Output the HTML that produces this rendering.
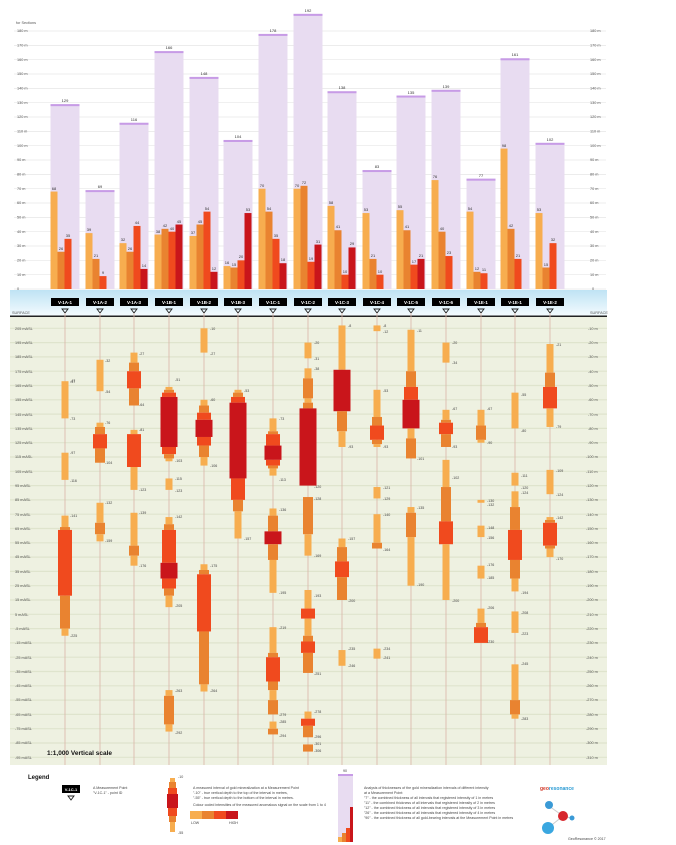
<!DOCTYPE html>
<html><head><meta charset="utf-8"><style>
html,body{margin:0;padding:0;background:#fff;}
svg{display:block;font-family:"Liberation Sans",sans-serif;}
.l{fill:#f7ad4f}.o{fill:#e98330}.r{fill:#f04a1e}.d{fill:#c9151b}
.t{font-size:3.6px;fill:#444}
.g{stroke:#e6e6e6;stroke-width:0.7}
.ax{font-size:3.8px;fill:#555}
.v{font-size:4px;fill:#333;text-anchor:middle}
</style></head><body>
<svg width="676" height="845" viewBox="0 0 676 845" xmlns="http://www.w3.org/2000/svg">
<defs><linearGradient id="bl" x1="0" y1="0" x2="0" y2="1"><stop offset="0" stop-color="#bfe3f4"/><stop offset="1" stop-color="#f4fbfe"/></linearGradient></defs>
<rect width="676" height="845" fill="#fff"/>
<!-- top grid -->
<text x="16" y="24" class="ax">for Sections</text>
<g>
<line class="g" x1="14" x2="606" y1="289" y2="289"/><line class="g" x1="14" x2="606" y1="274.7" y2="274.7"/><line class="g" x1="14" x2="606" y1="260.3" y2="260.3"/><line class="g" x1="14" x2="606" y1="246" y2="246"/><line class="g" x1="14" x2="606" y1="231.7" y2="231.7"/><line class="g" x1="14" x2="606" y1="217.4" y2="217.4"/><line class="g" x1="14" x2="606" y1="203" y2="203"/><line class="g" x1="14" x2="606" y1="188.7" y2="188.7"/><line class="g" x1="14" x2="606" y1="174.4" y2="174.4"/><line class="g" x1="14" x2="606" y1="160" y2="160"/><line class="g" x1="14" x2="606" y1="145.7" y2="145.7"/><line class="g" x1="14" x2="606" y1="131.4" y2="131.4"/><line class="g" x1="14" x2="606" y1="117" y2="117"/><line class="g" x1="14" x2="606" y1="102.7" y2="102.7"/><line class="g" x1="14" x2="606" y1="88.4" y2="88.4"/><line class="g" x1="14" x2="606" y1="74" y2="74"/><line class="g" x1="14" x2="606" y1="59.7" y2="59.7"/><line class="g" x1="14" x2="606" y1="45.4" y2="45.4"/><line class="g" x1="14" x2="606" y1="31" y2="31"/>
</g>
<g class="ax">
<text x="17" y="290">0</text><text x="17" y="276">10 m</text><text x="17" y="261.5">20 m</text><text x="17" y="247">30 m</text><text x="17" y="233">40 m</text><text x="17" y="218.5">50 m</text><text x="17" y="204">60 m</text><text x="17" y="190">70 m</text><text x="17" y="175.5">80 m</text><text x="17" y="161">90 m</text><text x="17" y="147">100 m</text><text x="17" y="132.5">110 m</text><text x="17" y="118">120 m</text><text x="17" y="104">130 m</text><text x="17" y="89.5">140 m</text><text x="17" y="75">150 m</text><text x="17" y="61">160 m</text><text x="17" y="46.5">170 m</text><text x="17" y="32">180 m</text>
<text x="592" y="290">0</text><text x="590" y="276">10 m</text><text x="590" y="261.5">20 m</text><text x="590" y="247">30 m</text><text x="590" y="233">40 m</text><text x="590" y="218.5">50 m</text><text x="590" y="204">60 m</text><text x="590" y="190">70 m</text><text x="590" y="175.5">80 m</text><text x="590" y="161">90 m</text><text x="590" y="147">100 m</text><text x="590" y="132.5">110 m</text><text x="590" y="118">120 m</text><text x="590" y="104">130 m</text><text x="590" y="89.5">140 m</text><text x="590" y="75">150 m</text><text x="590" y="61">160 m</text><text x="590" y="46.5">170 m</text><text x="590" y="32">180 m</text>
</g>
<!-- top bars -->
<g transform="translate(50.5,289) scale(1,-1.433)"><rect width="29" height="129" fill="#e8dcf1"/><rect y="127.6" width="29" height="1.4" fill="#c79be6"/><rect class="l" width="7" height="68"/><rect class="o" x="7" width="7" height="26"/><rect class="r" x="14" width="7" height="35"/></g>
<g transform="translate(85.5,289) scale(1,-1.433)"><rect width="29" height="69" fill="#e8dcf1"/><rect y="67.6" width="29" height="1.4" fill="#c79be6"/><rect class="l" width="7" height="39"/><rect class="o" x="7" width="7" height="21"/><rect class="r" x="14" width="7" height="9"/></g>
<g transform="translate(119.5,289) scale(1,-1.433)"><rect width="29" height="116" fill="#e8dcf1"/><rect y="114.6" width="29" height="1.4" fill="#c79be6"/><rect class="l" width="7" height="32"/><rect class="o" x="7" width="7" height="26"/><rect class="r" x="14" width="7" height="44"/><rect class="d" x="21" width="7" height="14"/></g>
<g transform="translate(154.5,289) scale(1,-1.433)"><rect width="29" height="166" fill="#e8dcf1"/><rect y="164.6" width="29" height="1.4" fill="#c79be6"/><rect class="l" width="7" height="38"/><rect class="o" x="7" width="7" height="42"/><rect class="r" x="14" width="7" height="40"/><rect class="d" x="21" width="7" height="45"/></g>
<g transform="translate(189.5,289) scale(1,-1.433)"><rect width="29" height="148" fill="#e8dcf1"/><rect y="146.6" width="29" height="1.4" fill="#c79be6"/><rect class="l" width="7" height="37"/><rect class="o" x="7" width="7" height="45"/><rect class="r" x="14" width="7" height="54"/><rect class="d" x="21" width="7" height="12"/></g>
<g transform="translate(223.5,289) scale(1,-1.433)"><rect width="29" height="104" fill="#e8dcf1"/><rect y="102.6" width="29" height="1.4" fill="#c79be6"/><rect class="l" width="7" height="16"/><rect class="o" x="7" width="7" height="15"/><rect class="r" x="14" width="7" height="20"/><rect class="d" x="21" width="7" height="53"/></g>
<g transform="translate(258.5,289) scale(1,-1.433)"><rect width="29" height="178" fill="#e8dcf1"/><rect y="176.6" width="29" height="1.4" fill="#c79be6"/><rect class="l" width="7" height="70"/><rect class="o" x="7" width="7" height="54"/><rect class="r" x="14" width="7" height="35"/><rect class="d" x="21" width="7" height="18"/></g>
<g transform="translate(293.5,289) scale(1,-1.433)"><rect width="29" height="192" fill="#e8dcf1"/><rect y="190.6" width="29" height="1.4" fill="#c79be6"/><rect class="l" width="7" height="70"/><rect class="o" x="7" width="7" height="72"/><rect class="r" x="14" width="7" height="19"/><rect class="d" x="21" width="7" height="31"/></g>
<g transform="translate(327.5,289) scale(1,-1.433)"><rect width="29" height="138" fill="#e8dcf1"/><rect y="136.6" width="29" height="1.4" fill="#c79be6"/><rect class="l" width="7" height="58"/><rect class="o" x="7" width="7" height="41"/><rect class="r" x="14" width="7" height="10"/><rect class="d" x="21" width="7" height="29"/></g>
<g transform="translate(362.5,289) scale(1,-1.433)"><rect width="29" height="83" fill="#e8dcf1"/><rect y="81.6" width="29" height="1.4" fill="#c79be6"/><rect class="l" width="7" height="53"/><rect class="o" x="7" width="7" height="21"/><rect class="r" x="14" width="7" height="10"/></g>
<g transform="translate(396.5,289) scale(1,-1.433)"><rect width="29" height="135" fill="#e8dcf1"/><rect y="133.6" width="29" height="1.4" fill="#c79be6"/><rect class="l" width="7" height="55"/><rect class="o" x="7" width="7" height="41"/><rect class="r" x="14" width="7" height="17"/><rect class="d" x="21" width="7" height="21"/></g>
<g transform="translate(431.5,289) scale(1,-1.433)"><rect width="29" height="139" fill="#e8dcf1"/><rect y="137.6" width="29" height="1.4" fill="#c79be6"/><rect class="l" width="7" height="76"/><rect class="o" x="7" width="7" height="40"/><rect class="r" x="14" width="7" height="23"/></g>
<g transform="translate(466.5,289) scale(1,-1.433)"><rect width="29" height="77" fill="#e8dcf1"/><rect y="75.6" width="29" height="1.4" fill="#c79be6"/><rect class="l" width="7" height="54"/><rect class="o" x="7" width="7" height="12"/><rect class="r" x="14" width="7" height="11"/></g>
<g transform="translate(500.5,289) scale(1,-1.433)"><rect width="29" height="161" fill="#e8dcf1"/><rect y="159.6" width="29" height="1.4" fill="#c79be6"/><rect class="l" width="7" height="98"/><rect class="o" x="7" width="7" height="42"/><rect class="r" x="14" width="7" height="21"/></g>
<g transform="translate(535.5,289) scale(1,-1.433)"><rect width="29" height="102" fill="#e8dcf1"/><rect y="100.6" width="29" height="1.4" fill="#c79be6"/><rect class="l" width="7" height="53"/><rect class="o" x="7" width="7" height="15"/><rect class="r" x="14" width="7" height="32"/></g>
<!-- top labels -->
<g class="v">
<text x="65" y="102">129</text><text x="100" y="188">69</text><text x="134" y="121">116</text><text x="169" y="49">166</text><text x="204" y="75">148</text><text x="238" y="138">104</text><text x="273" y="32">178</text><text x="308" y="12">192</text><text x="342" y="89">138</text><text x="377" y="168">83</text><text x="411" y="94">135</text><text x="446" y="88">139</text><text x="481" y="177">77</text><text x="515" y="56">161</text><text x="550" y="141">102</text>
<text x="54" y="190">68</text><text x="61" y="250">26</text><text x="68" y="237">35</text>
<text x="89" y="231">39</text><text x="96" y="257">21</text><text x="103" y="274">9</text>
<text x="123" y="241">32</text><text x="130" y="250">26</text><text x="137" y="224">44</text><text x="144" y="267">14</text>
<text x="158" y="233">38</text><text x="165" y="227">42</text><text x="172" y="230">40</text><text x="179" y="223">45</text>
<text x="193" y="234">37</text><text x="200" y="223">45</text><text x="207" y="210">54</text><text x="214" y="270">12</text>
<text x="227" y="264">16</text><text x="234" y="266">15</text><text x="241" y="258">20</text><text x="248" y="211">53</text>
<text x="262" y="187">70</text><text x="269" y="210">54</text><text x="276" y="237">35</text><text x="283" y="261">18</text>
<text x="297" y="187">70</text><text x="304" y="184">72</text><text x="311" y="260">19</text><text x="318" y="243">31</text>
<text x="331" y="204">58</text><text x="338" y="228">41</text><text x="345" y="273">10</text><text x="352" y="245">29</text>
<text x="366" y="211">53</text><text x="373" y="257">21</text><text x="380" y="273">10</text>
<text x="400" y="208">55</text><text x="407" y="228">41</text><text x="414" y="263">17</text><text x="421" y="257">21</text>
<text x="435" y="178">76</text><text x="442" y="230">40</text><text x="449" y="254">23</text>
<text x="470" y="210">54</text><text x="477" y="270">12</text><text x="484" y="271">11</text>
<text x="504" y="147">98</text><text x="511" y="227">42</text><text x="518" y="257">21</text>
<text x="539" y="211">53</text><text x="546" y="266">15</text><text x="553" y="241">32</text>
</g>
<!-- blue band -->
<rect x="10" y="290" width="597" height="26" fill="url(#bl)"/>
<g fill="#000"><rect x="51" y="298" width="28" height="8"/><rect x="86" y="298" width="28" height="8"/><rect x="120" y="298" width="28" height="8"/><rect x="155" y="298" width="28" height="8"/><rect x="190" y="298" width="28" height="8"/><rect x="224" y="298" width="28" height="8"/><rect x="259" y="298" width="28" height="8"/><rect x="294" y="298" width="28" height="8"/><rect x="328" y="298" width="28" height="8"/><rect x="363" y="298" width="28" height="8"/><rect x="397" y="298" width="28" height="8"/><rect x="432" y="298" width="28" height="8"/><rect x="467" y="298" width="28" height="8"/><rect x="501" y="298" width="28" height="8"/><rect x="536" y="298" width="28" height="8"/></g>
<g font-size="4.5" fill="#fff" font-weight="bold" text-anchor="middle"><text x="65" y="304">V-1A-1</text><text x="100" y="304">V-1A-2</text><text x="134" y="304">V-1A-3</text><text x="169" y="304">V-1B-1</text><text x="204" y="304">V-1B-2</text><text x="238" y="304">V-1B-3</text><text x="273" y="304">V-1C-1</text><text x="308" y="304">V-1C-2</text><text x="342" y="304">V-1C-3</text><text x="377" y="304">V-1C-4</text><text x="411" y="304">V-1C-5</text><text x="446" y="304">V-1C-6</text><text x="481" y="304">V-1E-1</text><text x="515" y="304">V-1E-1</text><text x="550" y="304">V-1E-2</text></g>
<g fill="none" stroke="#222" stroke-width="0.9"><path d="M62 309h6l-3 4z"/><path d="M97 309h6l-3 4z"/><path d="M131 309h6l-3 4z"/><path d="M166 309h6l-3 4z"/><path d="M201 309h6l-3 4z"/><path d="M235 309h6l-3 4z"/><path d="M270 309h6l-3 4z"/><path d="M305 309h6l-3 4z"/><path d="M339 309h6l-3 4z"/><path d="M374 309h6l-3 4z"/><path d="M408 309h6l-3 4z"/><path d="M443 309h6l-3 4z"/><path d="M478 309h6l-3 4z"/><path d="M512 309h6l-3 4z"/><path d="M547 309h6l-3 4z"/></g>
<text x="12" y="314" class="ax" font-size="3.2">SURFACE</text><text x="590" y="314" class="ax" font-size="3.2">SURFACE</text>
<rect x="10" y="315.5" width="597" height="1.6" fill="#222"/>
<!-- green area -->
<rect x="10" y="317" width="597" height="448" fill="#eef1e1"/>
<g stroke="#dfe4cd" stroke-width="1.2">
<line x1="10" x2="607" y1="328.3" y2="328.3"/><line x1="10" x2="607" y1="342.6" y2="342.6"/><line x1="10" x2="607" y1="356.9" y2="356.9"/><line x1="10" x2="607" y1="371.2" y2="371.2"/><line x1="10" x2="607" y1="385.5" y2="385.5"/><line x1="10" x2="607" y1="399.8" y2="399.8"/><line x1="10" x2="607" y1="414.1" y2="414.1"/><line x1="10" x2="607" y1="428.4" y2="428.4"/><line x1="10" x2="607" y1="442.7" y2="442.7"/><line x1="10" x2="607" y1="457" y2="457"/><line x1="10" x2="607" y1="471.3" y2="471.3"/><line x1="10" x2="607" y1="485.6" y2="485.6"/><line x1="10" x2="607" y1="499.9" y2="499.9"/><line x1="10" x2="607" y1="514.2" y2="514.2"/><line x1="10" x2="607" y1="528.5" y2="528.5"/><line x1="10" x2="607" y1="542.8" y2="542.8"/><line x1="10" x2="607" y1="557.1" y2="557.1"/><line x1="10" x2="607" y1="571.4" y2="571.4"/><line x1="10" x2="607" y1="585.7" y2="585.7"/><line x1="10" x2="607" y1="600" y2="600"/><line x1="10" x2="607" y1="614.3" y2="614.3"/><line x1="10" x2="607" y1="628.6" y2="628.6"/><line x1="10" x2="607" y1="642.9" y2="642.9"/><line x1="10" x2="607" y1="657.2" y2="657.2"/><line x1="10" x2="607" y1="671.5" y2="671.5"/><line x1="10" x2="607" y1="685.8" y2="685.8"/><line x1="10" x2="607" y1="700.1" y2="700.1"/><line x1="10" x2="607" y1="714.4" y2="714.4"/><line x1="10" x2="607" y1="728.7" y2="728.7"/><line x1="10" x2="607" y1="743" y2="743"/><line x1="10" x2="607" y1="757.3" y2="757.3"/>
</g>
<g stroke="#d9b5a8" stroke-width="0.8"><line x1="65" x2="65" y1="313" y2="765"/><line x1="100" x2="100" y1="313" y2="765"/><line x1="134" x2="134" y1="313" y2="765"/><line x1="169" x2="169" y1="313" y2="765"/><line x1="204" x2="204" y1="313" y2="765"/><line x1="238" x2="238" y1="313" y2="765"/><line x1="273" x2="273" y1="313" y2="765"/><line x1="308" x2="308" y1="313" y2="765"/><line x1="342" x2="342" y1="313" y2="765"/><line x1="377" x2="377" y1="313" y2="765"/><line x1="411" x2="411" y1="313" y2="765"/><line x1="446" x2="446" y1="313" y2="765"/><line x1="481" x2="481" y1="313" y2="765"/><line x1="515" x2="515" y1="313" y2="765"/><line x1="550" x2="550" y1="313" y2="765"/></g>
<g class="ax" font-size="3.5">
<text x="15" y="330">205 mASL</text><text x="15" y="344">195 mASL</text><text x="15" y="358">185 mASL</text><text x="15" y="373">175 mASL</text><text x="15" y="387">165 mASL</text><text x="15" y="401">155 mASL</text><text x="15" y="416">145 mASL</text><text x="15" y="430">135 mASL</text><text x="15" y="444">125 mASL</text><text x="15" y="458">115 mASL</text><text x="15" y="473">105 mASL</text><text x="15" y="487">95 mASL</text><text x="15" y="501">85 mASL</text><text x="15" y="516">75 mASL</text><text x="15" y="530">65 mASL</text><text x="15" y="544">55 mASL</text><text x="15" y="558">45 mASL</text><text x="15" y="573">35 mASL</text><text x="15" y="587">25 mASL</text><text x="15" y="601">15 mASL</text><text x="15" y="616">5 mASL</text><text x="15" y="630">-5 mASL</text><text x="15" y="644">-15 mASL</text><text x="15" y="659">-25 mASL</text><text x="15" y="673">-35 mASL</text><text x="15" y="687">-45 mASL</text><text x="15" y="701">-55 mASL</text><text x="15" y="716">-65 mASL</text><text x="15" y="730">-75 mASL</text><text x="15" y="744">-85 mASL</text><text x="15" y="759">-95 mASL</text>
<text x="588" y="330">-10 m</text><text x="588" y="344">-20 m</text><text x="588" y="358">-30 m</text><text x="588" y="373">-40 m</text><text x="588" y="387">-50 m</text><text x="588" y="401">-60 m</text><text x="588" y="416">-70 m</text><text x="588" y="430">-80 m</text><text x="588" y="444">-90 m</text><text x="586" y="458">-100 m</text><text x="586" y="473">-110 m</text><text x="586" y="487">-120 m</text><text x="586" y="501">-130 m</text><text x="586" y="516">-140 m</text><text x="586" y="530">-150 m</text><text x="586" y="544">-160 m</text><text x="586" y="558">-170 m</text><text x="586" y="573">-180 m</text><text x="586" y="587">-190 m</text><text x="586" y="601">-200 m</text><text x="586" y="616">-210 m</text><text x="586" y="630">-220 m</text><text x="586" y="644">-230 m</text><text x="586" y="659">-240 m</text><text x="586" y="673">-250 m</text><text x="586" y="687">-260 m</text><text x="586" y="701">-270 m</text><text x="586" y="716">-280 m</text><text x="586" y="730">-290 m</text><text x="586" y="744">-300 m</text><text x="586" y="759">-310 m</text>
</g>
<!-- intervals: depth-scaled groups -->
<g transform="translate(65,314) scale(1,1.43)">
<rect class="l" x="-3.5" width="7" y="47" height="26"/><rect class="l" x="-3.5" width="7" y="97" height="19"/><rect class="l" x="-3.5" width="7" y="141" height="10"/><rect class="o" x="-5" width="10" y="149" height="2"/><rect class="r" x="-7" width="14" y="151" height="46"/><rect class="o" x="-5" width="10" y="197" height="23"/><rect class="l" x="-3.5" width="7" y="220" height="5"/>
<text class="t" x="5" y="48" transform="scale(1,0.7)" dy="20">-47</text></g>
<g transform="translate(100,314) scale(1,1.43)">
<rect class="l" x="-3.5" width="7" y="32" height="22"/><rect class="l" x="-3.5" width="7" y="76" height="3"/><rect class="o" x="-5" width="10" y="79" height="5"/><rect class="r" x="-7" width="14" y="84" height="10"/><rect class="o" x="-5" width="10" y="94" height="10"/><rect class="l" x="-3.5" width="7" y="132" height="14"/><rect class="o" x="-5" width="10" y="146" height="8"/><rect class="l" x="-3.5" width="7" y="154" height="5"/></g>
<g transform="translate(134,314) scale(1,1.43)">
<rect class="l" x="-3.5" width="7" y="27" height="7"/><rect class="o" x="-5" width="10" y="34" height="6"/><rect class="r" x="-7" width="14" y="40" height="12"/><rect class="o" x="-5" width="10" y="52" height="12"/><rect class="l" x="-3.5" width="7" y="81" height="3"/><rect class="r" x="-7" width="14" y="84" height="23"/><rect class="l" x="-3.5" width="7" y="107" height="16"/><rect class="l" x="-3.5" width="7" y="139" height="23"/><rect class="o" x="-5" width="10" y="162" height="7"/><rect class="l" x="-3.5" width="7" y="169" height="7"/></g>
<g transform="translate(169,314) scale(1,1.43)">
<rect class="l" x="-3.5" width="7" y="51" height="2"/><rect class="o" x="-5" width="10" y="53" height="2"/><rect class="r" x="-7" width="14" y="55" height="3"/><rect class="d" x="-8.5" width="17" y="58" height="35"/><rect class="r" x="-7" width="14" y="93" height="5"/><rect class="o" x="-5" width="10" y="98" height="3"/><rect class="l" x="-3.5" width="7" y="101" height="2"/><rect class="l" x="-3.5" width="7" y="115" height="8"/>
<rect class="l" x="-3.5" width="7" y="142" height="5"/><rect class="o" x="-5" width="10" y="147" height="4"/><rect class="r" x="-7" width="14" y="151" height="23"/><rect class="d" x="-8.5" width="17" y="174" height="11"/><rect class="r" x="-7" width="14" y="185" height="7"/><rect class="o" x="-5" width="10" y="192" height="5"/><rect class="l" x="-3.5" width="7" y="197" height="8"/>
<rect class="l" x="-3.5" width="7" y="263" height="4"/><rect class="o" x="-5" width="10" y="267" height="20"/><rect class="l" x="-3.5" width="7" y="287" height="5"/></g>
<g transform="translate(204,314) scale(1,1.43)">
<rect class="l" x="-3.5" width="7" y="10" height="17"/><rect class="l" x="-3.5" width="7" y="60" height="4"/><rect class="o" x="-5" width="10" y="64" height="5"/><rect class="r" x="-7" width="14" y="69" height="5"/><rect class="d" x="-8.5" width="17" y="74" height="12"/><rect class="r" x="-7" width="14" y="86" height="6"/><rect class="o" x="-5" width="10" y="92" height="8"/><rect class="l" x="-3.5" width="7" y="100" height="6"/>
<rect class="l" x="-3.5" width="7" y="175" height="4"/><rect class="o" x="-5" width="10" y="179" height="3"/><rect class="r" x="-7" width="14" y="182" height="40"/><rect class="o" x="-5" width="10" y="222" height="37"/><rect class="l" x="-3.5" width="7" y="259" height="5"/></g>
<g transform="translate(238,314) scale(1,1.43)">
<rect class="l" x="-3.5" width="7" y="53" height="2"/><rect class="o" x="-5" width="10" y="55" height="3"/><rect class="r" x="-7" width="14" y="58" height="4"/><rect class="d" x="-8.5" width="17" y="62" height="53"/><rect class="r" x="-7" width="14" y="115" height="15"/><rect class="o" x="-5" width="10" y="130" height="8"/><rect class="l" x="-3.5" width="7" y="138" height="19"/></g>
<g transform="translate(273,314) scale(1,1.43)">
<rect class="l" x="-3.5" width="7" y="73" height="9"/><rect class="o" x="-5" width="10" y="82" height="2"/><rect class="r" x="-7" width="14" y="84" height="8"/><rect class="d" x="-8.5" width="17" y="92" height="10"/><rect class="r" x="-7" width="14" y="102" height="4"/><rect class="o" x="-5" width="10" y="106" height="2"/><rect class="l" x="-3.5" width="7" y="108" height="5"/>
<rect class="l" x="-3.5" width="7" y="136" height="5"/><rect class="o" x="-5" width="10" y="141" height="11"/><rect class="d" x="-8.5" width="17" y="152" height="9"/><rect class="o" x="-5" width="10" y="161" height="11"/><rect class="l" x="-3.5" width="7" y="172" height="23"/>
<rect class="l" x="-3.5" width="7" y="219" height="18"/><rect class="o" x="-5" width="10" y="237" height="3"/><rect class="r" x="-7" width="14" y="240" height="17"/><rect class="o" x="-5" width="10" y="257" height="6"/><rect class="l" x="-3.5" width="7" y="263" height="7"/><rect class="o" x="-5" width="10" y="270" height="10"/><rect class="l" x="-3.5" width="7" y="285" height="5"/><rect class="o" x="-5" width="10" y="290" height="4"/></g>
<g transform="translate(308,314) scale(1,1.43)">
<rect class="l" x="-3.5" width="7" y="20" height="11"/><rect class="l" x="-3.5" width="7" y="38" height="7"/><rect class="o" x="-5" width="10" y="45" height="14"/><rect class="l" x="-3.5" width="7" y="59" height="3"/><rect class="o" x="-5" width="10" y="62" height="4"/><rect class="d" x="-8.5" width="17" y="66" height="54"/>
<rect class="o" x="-5" width="10" y="128" height="26"/><rect class="l" x="-3.5" width="7" y="154" height="15"/>
<rect class="l" x="-3.5" width="7" y="193" height="13"/><rect class="r" x="-7" width="14" y="206" height="7"/><rect class="l" x="-3.5" width="7" y="213" height="12"/><rect class="o" x="-5" width="10" y="225" height="4"/><rect class="r" x="-7" width="14" y="229" height="8"/><rect class="o" x="-5" width="10" y="237" height="14"/>
<rect class="l" x="-3.5" width="7" y="278" height="5"/><rect class="r" x="-7" width="14" y="283" height="5"/><rect class="o" x="-5" width="10" y="288" height="8"/><rect class="o" x="-5" width="10" y="301" height="5"/></g>
<g transform="translate(342,314) scale(1,1.43)">
<rect class="l" x="-3.5" width="7" y="8" height="31"/><rect class="d" x="-8.5" width="17" y="39" height="29"/><rect class="o" x="-5" width="10" y="68" height="14"/><rect class="l" x="-3.5" width="7" y="82" height="11"/>
<rect class="l" x="-3.5" width="7" y="157" height="6"/><rect class="o" x="-5" width="10" y="163" height="10"/><rect class="r" x="-7" width="14" y="173" height="11"/><rect class="o" x="-5" width="10" y="184" height="16"/><rect class="l" x="-3.5" width="7" y="235" height="11"/></g>
<g transform="translate(377,314) scale(1,1.43)">
<rect class="l" x="-3.5" width="7" y="8" height="4"/><rect class="l" x="-3.5" width="7" y="53" height="19"/><rect class="o" x="-5" width="10" y="72" height="6"/><rect class="r" x="-7" width="14" y="78" height="10"/><rect class="o" x="-5" width="10" y="88" height="3"/><rect class="l" x="-3.5" width="7" y="91" height="2"/>
<rect class="l" x="-3.5" width="7" y="121" height="8"/><rect class="l" x="-3.5" width="7" y="140" height="20"/><rect class="o" x="-5" width="10" y="160" height="4"/><rect class="l" x="-3.5" width="7" y="234" height="7"/></g>
<g transform="translate(411,314) scale(1,1.43)">
<rect class="l" x="-3.5" width="7" y="11" height="29"/><rect class="o" x="-5" width="10" y="40" height="11"/><rect class="r" x="-7" width="14" y="51" height="9"/><rect class="d" x="-8.5" width="17" y="60" height="20"/><rect class="l" x="-3.5" width="7" y="80" height="7"/><rect class="o" x="-5" width="10" y="87" height="14"/>
<rect class="l" x="-3.5" width="7" y="135" height="4"/><rect class="o" x="-5" width="10" y="139" height="17"/><rect class="l" x="-3.5" width="7" y="156" height="34"/></g>
<g transform="translate(446,314) scale(1,1.43)">
<rect class="l" x="-3.5" width="7" y="20" height="14"/><rect class="l" x="-3.5" width="7" y="67" height="7"/><rect class="o" x="-5" width="10" y="74" height="2"/><rect class="r" x="-7" width="14" y="76" height="8"/><rect class="o" x="-5" width="10" y="84" height="9"/>
<rect class="l" x="-3.5" width="7" y="102" height="19"/><rect class="o" x="-5" width="10" y="121" height="24"/><rect class="r" x="-7" width="14" y="145" height="16"/><rect class="l" x="-3.5" width="7" y="161" height="39"/></g>
<g transform="translate(481,314) scale(1,1.43)">
<rect class="l" x="-3.5" width="7" y="67" height="11"/><rect class="o" x="-5" width="10" y="78" height="10"/><rect class="l" x="-3.5" width="7" y="88" height="2"/><rect class="l" x="-3.5" width="7" y="130" height="2"/><rect class="l" x="-3.5" width="7" y="148" height="8"/><rect class="l" x="-3.5" width="7" y="176" height="9"/>
<rect class="l" x="-3.5" width="7" y="206" height="10"/><rect class="o" x="-5" width="10" y="216" height="3"/><rect class="r" x="-7" width="14" y="219" height="11"/></g>
<g transform="translate(515,314) scale(1,1.43)">
<rect class="l" x="-3.5" width="7" y="55" height="25"/><rect class="l" x="-3.5" width="7" y="111" height="9"/><rect class="l" x="-3.5" width="7" y="124" height="11"/><rect class="o" x="-5" width="10" y="135" height="16"/><rect class="r" x="-7" width="14" y="151" height="21"/><rect class="o" x="-5" width="10" y="172" height="13"/><rect class="l" x="-3.5" width="7" y="185" height="9"/>
<rect class="l" x="-3.5" width="7" y="208" height="15"/><rect class="l" x="-3.5" width="7" y="245" height="25"/><rect class="o" x="-5" width="10" y="270" height="10"/><rect class="l" x="-3.5" width="7" y="280" height="3"/></g>
<g transform="translate(550,314) scale(1,1.43)">
<rect class="l" x="-3.5" width="7" y="21" height="20"/><rect class="o" x="-5" width="10" y="41" height="10"/><rect class="r" x="-7" width="14" y="51" height="15"/><rect class="l" x="-3.5" width="7" y="66" height="13"/><rect class="l" x="-3.5" width="7" y="109" height="17"/>
<rect class="l" x="-3.5" width="7" y="142" height="2"/><rect class="o" x="-5" width="10" y="144" height="2"/><rect class="r" x="-7" width="14" y="146" height="16"/><rect class="o" x="-5" width="10" y="162" height="2"/><rect class="l" x="-3.5" width="7" y="164" height="6"/></g>
<!-- some depth labels -->
<g class="t">
<text x="70" y="383">-47</text><text x="70" y="420">-73</text><text x="70" y="454">-97</text><text x="70" y="482">-116</text><text x="70" y="517">-141</text><text x="70" y="637">-225</text>
<text x="105" y="362">-32</text><text x="105" y="393">-54</text><text x="105" y="424">-76</text><text x="105" y="464">-104</text><text x="105" y="504">-132</text><text x="105" y="542">-159</text>
<text x="139" y="355">-27</text><text x="139" y="406">-64</text><text x="139" y="431">-81</text><text x="139" y="491">-123</text><text x="139" y="514">-139</text><text x="139" y="567">-176</text>
<text x="175" y="381">-51</text><text x="175" y="462">-103</text><text x="175" y="480">-115</text><text x="175" y="492">-123</text><text x="175" y="518">-142</text><text x="175" y="607">-205</text><text x="175" y="692">-263</text><text x="175" y="734">-292</text>
<text x="210" y="330">-10</text><text x="210" y="355">-27</text><text x="210" y="401">-60</text><text x="210" y="467">-106</text><text x="210" y="567">-175</text><text x="210" y="692">-264</text>
<text x="244" y="392">-53</text><text x="244" y="540">-157</text>
<text x="279" y="420">-73</text><text x="279" y="481">-113</text><text x="279" y="511">-136</text><text x="279" y="594">-195</text><text x="279" y="629">-219</text><text x="279" y="716">-279</text><text x="279" y="723">-285</text><text x="279" y="737">-294</text>
<text x="314" y="344">-20</text><text x="314" y="360">-31</text><text x="314" y="370">-38</text><text x="314" y="488">-120</text><text x="314" y="500">-128</text><text x="314" y="557">-169</text><text x="314" y="597">-193</text><text x="314" y="675">-251</text><text x="314" y="713">-278</text><text x="314" y="738">-296</text><text x="314" y="745">-301</text><text x="314" y="752">-306</text>
<text x="348" y="327">-8</text><text x="348" y="448">-93</text><text x="348" y="540">-157</text><text x="348" y="602">-200</text><text x="348" y="650">-235</text><text x="348" y="667">-246</text>
<text x="383" y="327">-8</text><text x="383" y="333">-12</text><text x="383" y="392">-53</text><text x="383" y="448">-93</text><text x="383" y="489">-121</text><text x="383" y="500">-129</text><text x="383" y="516">-140</text><text x="383" y="551">-164</text><text x="383" y="650">-234</text><text x="383" y="659">-241</text>
<text x="417" y="332">-11</text><text x="417" y="460">-101</text><text x="417" y="509">-135</text><text x="417" y="586">-190</text>
<text x="452" y="344">-20</text><text x="452" y="364">-34</text><text x="452" y="410">-67</text><text x="452" y="448">-93</text><text x="452" y="479">-102</text><text x="452" y="602">-200</text>
<text x="487" y="410">-67</text><text x="487" y="444">-90</text><text x="487" y="502">-130</text><text x="487" y="506">-132</text><text x="487" y="529">-148</text><text x="487" y="539">-156</text><text x="487" y="566">-176</text><text x="487" y="579">-185</text><text x="487" y="609">-206</text><text x="487" y="643">-230</text>
<text x="521" y="396">-55</text><text x="521" y="432">-80</text><text x="521" y="477">-111</text><text x="521" y="489">-120</text><text x="521" y="494">-124</text><text x="521" y="594">-194</text><text x="521" y="614">-208</text><text x="521" y="635">-223</text><text x="521" y="665">-245</text><text x="521" y="720">-283</text>
<text x="556" y="346">-21</text><text x="556" y="428">-79</text><text x="556" y="472">-109</text><text x="556" y="496">-124</text><text x="556" y="519">-142</text><text x="556" y="560">-170</text>
</g>
<text x="47" y="755" font-size="6.5" font-weight="bold" fill="#111">1:1,000  Vertical scale</text>
<!-- legend -->
<text x="28" y="779" font-size="6" font-weight="bold" fill="#111">Legend</text>
<rect x="62" y="785" width="18" height="8" fill="#000"/><text x="71" y="791" font-size="4" fill="#fff" text-anchor="middle" font-weight="bold">V-1C-1</text>
<path d="M68 796h6l-3 4z" fill="none" stroke="#222" stroke-width="0.9"/>
<text x="93" y="789" class="t">A Measurement Point</text><text x="93" y="794" class="t">"V-1C-1" - point ID</text>
<g><rect class="l" x="170" y="778" width="5" height="10"/><rect class="o" x="169" y="782" width="7" height="8"/><rect class="r" x="168" y="788" width="9" height="8"/><rect class="d" x="167" y="794" width="11" height="14"/><rect class="r" x="168" y="808" width="9" height="8"/><rect class="o" x="169" y="816" width="7" height="6"/><rect class="l" x="170" y="822" width="5" height="10"/></g>
<text x="178" y="778" class="t">-10</text><text x="178" y="834" class="t">-55</text>
<g class="t"><text x="193" y="789">A measured interval of gold mineralization at a Measurement Point</text><text x="193" y="794">"-10" - true vertical depth to the top of the interval in metres,</text><text x="193" y="799">"-55" - true vertical depth to the bottom of the interval in metres.</text><text x="193" y="806">Colour coded intensities of the measured anomalous signal on the scale from 1 to 4</text></g>
<rect class="l" x="190" y="811" width="12" height="8"/><rect class="o" x="202" y="811" width="12" height="8"/><rect class="r" x="214" y="811" width="12" height="8"/><rect class="d" x="226" y="811" width="12" height="8"/>
<text x="191" y="824" class="t">LOW</text><text x="229" y="824" class="t">HIGH</text>
<rect x="338" y="774" width="15" height="68" fill="#e8dcf1"/><rect x="338" y="774" width="15" height="2" fill="#c79be6"/>
<rect class="l" x="338" y="837" width="4" height="5"/><rect class="o" x="342" y="833" width="4" height="9"/><rect class="r" x="346" y="828" width="4" height="14"/><rect class="d" x="350" y="807" width="3" height="35"/>
<text x="343" y="772" class="t">90</text>
<g class="t"><text x="364" y="789">Analysis of thicknesses of the gold mineralization intervals of different intensity</text><text x="364" y="794">at a Measurement Point:</text><text x="364" y="799">"7" - the combined thickness of all intervals that registered intensity of 1 in metres</text><text x="364" y="804">"11" - the combined thickness of all intervals that registered intensity of 2 in metres</text><text x="364" y="809">"12" - the combined thickness of all intervals that registered intensity of 3 in metres</text><text x="364" y="814">"26" - the combined thickness of all intervals that registered intensity of 4 in metres</text><text x="364" y="819">"90" - the combined thickness of all gold-bearing intervals at the Measurement Point in metres</text></g>
<text x="540" y="790" font-size="5" font-weight="bold" fill="#d23a2a">geo<tspan fill="#2a9bd4">resonance</tspan></text>
<line x1="549" y1="806" x2="563" y2="816" stroke="#ccc" stroke-width="1"/><line x1="563" y1="816" x2="548" y2="828" stroke="#ccc" stroke-width="1"/><line x1="563" y1="816" x2="571" y2="818" stroke="#ccc" stroke-width="1"/>
<circle cx="549" cy="805" r="4" fill="#3a9ad6"/><circle cx="563" cy="816" r="5" fill="#d7262c"/><circle cx="572" cy="818" r="2.5" fill="#3a9ad6"/><circle cx="548" cy="828" r="6" fill="#3aa7e0"/>
<text x="568" y="840" class="t" font-size="2.5">GeoResonance © 2017</text>
</svg>
</body></html>
